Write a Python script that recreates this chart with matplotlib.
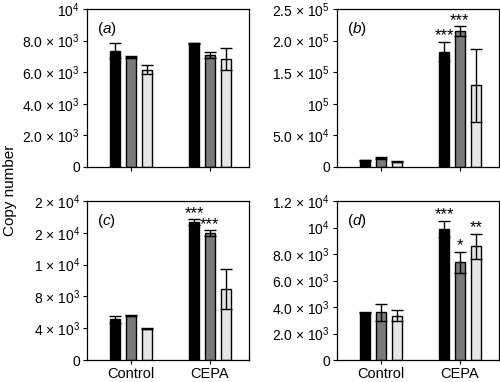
import matplotlib
matplotlib.use("Agg")
import matplotlib.pyplot as plt
import numpy as np

plt.rcParams["font.family"] = ["Liberation Sans", "DejaVu Sans"]
plt.rcParams["mathtext.fontset"] = "custom"
plt.rcParams["mathtext.rm"] = "Liberation Sans"
plt.rcParams["mathtext.it"] = "Liberation Sans:italic"

groups = ["Control", "CEPA"]
colors = ["#000000", "#7a7a7a", "#e6e6e6"]

# panel (a)
a_means = [[7360, 6960, 6160], [7820, 7090, 6840]]
a_errs = [[480, 40, 290], [20, 220, 670]]
a_stars = [["", "", ""], ["", "", ""]]
a_ticks = [0, 2000, 4000, 6000, 8000, 10000]
a_labels = ["0", r"2.0 $\times$ 10$^3$", r"4.0 $\times$ 10$^3$", r"6.0 $\times$ 10$^3$",
            r"8.0 $\times$ 10$^3$", r"10$^4$"]

# panel (b)
b_means = [[10500, 14800, 8400], [182500, 214700, 129200]]
b_errs = [[500, 1500, 1000], [15300, 7900, 58000]]
b_stars = [["", "", ""], ["***", "***", ""]]
b_ticks = [0, 50000, 100000, 150000, 200000, 250000]
b_labels = ["0", r"5.0 $\times$ 10$^4$", r"10$^5$", r"1.5 $\times$ 10$^5$",
            r"2.0 $\times$ 10$^5$", r"2.5 $\times$ 10$^5$"]

# panel (c)
c_means = [[5120, 5550, 3950], [17350, 15940, 8970]]
c_errs = [[450, 50, 100], [380, 400, 2500]]
c_stars = [["", "", ""], ["***", "***", ""]]
c_ticks = [0, 4000, 8000, 12000, 16000, 20000]
c_labels = ["0", r"4 $\times$ 10$^3$", r"8 $\times$ 10$^3$", r"1 $\times$ 10$^4$",
            r"2 $\times$ 10$^4$", r"2 $\times$ 10$^4$"]

# panel (d)
d_means = [[3570, 3620, 3340], [9890, 7370, 8580]]
d_errs = [[20, 640, 430], [600, 780, 930]]
d_stars = [["", "", ""], ["***", "*", "**"]]
d_ticks = [0, 2000, 4000, 6000, 8000, 10000, 12000]
d_labels = ["0", r"2.0 $\times$ 10$^3$", r"4.0 $\times$ 10$^3$", r"6.0 $\times$ 10$^3$",
            r"8.0 $\times$ 10$^3$", r"10$^4$", r"1.2 $\times$ 10$^4$"]

panels = [
    ("a", a_means, a_errs, a_stars, a_ticks, a_labels),
    ("b", b_means, b_errs, b_stars, b_ticks, b_labels),
    ("c", c_means, c_errs, c_stars, c_ticks, c_labels),
    ("d", d_means, d_errs, d_stars, d_ticks, d_labels),
]

W, H = 500, 382
fig = plt.figure(figsize=(W / 100, H / 100), dpi=100)

# axes boxes in pixels: left, top, right, bottom
boxes = [(87, 9, 249, 167), (337, 9, 499, 167), (87, 201, 249, 360), (337, 201, 499, 360)]

width = 0.12
offsets = [-0.2, 0.0, 0.2]

for i, (letter, means, errs, stars, ticks, labels) in enumerate(panels):
    l, t, r, b = boxes[i]
    ax = fig.add_axes([l / W, 1 - b / H, (r - l) / W, (b - t) / H])
    means = np.array(means)
    errs = np.array(errs)
    x = np.arange(len(groups))
    for k in range(3):
        ax.bar(x + offsets[k], means[:, k], width, color=colors[k],
               edgecolor="black", linewidth=1.0, zorder=2)
        ax.errorbar(x + offsets[k], means[:, k], yerr=errs[:, k], fmt="none",
                    ecolor="black", elinewidth=1.0, capsize=4, capthick=1.0, zorder=3)
        for g in range(len(groups)):
            if stars[g][k]:
                ax.text(x[g] + offsets[k], means[g, k] + errs[g, k] - ticks[-1] * 0.01,
                        stars[g][k], ha="center", va="bottom", fontsize=12)
    ax.set_xlim(-0.557, 1.494)
    ax.set_ylim(0, ticks[-1])
    ax.set_yticks(ticks)
    ax.set_yticklabels(labels, fontsize=10)
    ax.set_xticks(x)
    if i >= 2:
        ax.set_xticklabels(groups, fontsize=10.5)
    else:
        ax.set_xticklabels([])
    ax.tick_params(direction="out", length=3, width=0.8, pad=2)
    for s in ax.spines.values():
        s.set_linewidth(0.9)
    ax.text(0.06, 0.93, "(" + r"$\it{" + letter + "}$" + ")", transform=ax.transAxes,
            ha="left", va="top", fontsize=11)

fig.text(10 / W, 1 - 190 / H, "Copy number", rotation=90, ha="center", va="center", fontsize=11)

fig.savefig("out.png", dpi=100)
